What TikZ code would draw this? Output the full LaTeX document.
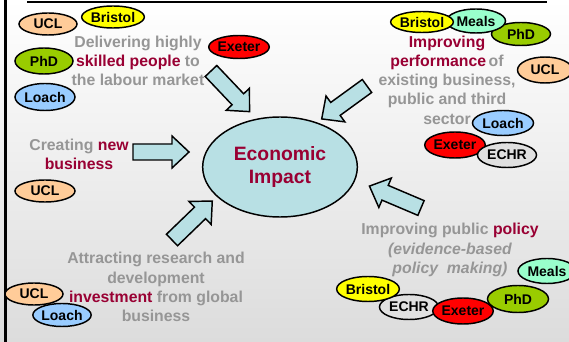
\documentclass[tikz,border=0pt]{standalone}
\usepackage{fontspec}
\setmainfont{Liberation Sans}
\usetikzlibrary{shapes.geometric}
\definecolor{gtext}{RGB}{150,150,150}
\definecolor{rtext}{RGB}{153,0,51}
\definecolor{impfill}{RGB}{184,224,228}
\definecolor{cucl}{RGB}{255,204,153}
\definecolor{cbristol}{RGB}{255,255,0}
\definecolor{cphd}{RGB}{153,204,0}
\definecolor{cloach}{RGB}{153,204,255}
\definecolor{cexeter}{RGB}{255,0,0}
\definecolor{cmeals}{RGB}{153,255,204}
\definecolor{cechr}{RGB}{224,224,224}
\definecolor{bgbot}{RGB}{220,220,220}
\tikzset{
  badge/.style={ellipse, draw=black, line width=1.1pt, inner sep=0pt,
    font=\fontsize{10.5}{12}\selectfont\bfseries, text=black},
  bsz/.style 2 args={minimum width=#1*0.75pt, minimum height=#2*0.75pt},
  blockarr/.style={draw=black, line width=1.1pt, fill=impfill, line join=miter},
  maintext/.style={align=center, text=gtext, inner sep=0pt,
    font=\fontsize{11.85}{14.4}\selectfont\bfseries},
}
\newcommand{\myblockarrow}[3]{%
  \draw[blockarr, shift={(#1,#2)}, rotate=#3]
    (0,-8) -- (39,-8) -- (39,-16) -- (56,0) -- (39,16) -- (39,8) -- (0,8) -- cycle;}
\begin{document}
\begin{tikzpicture}[x=0.75pt,y=-0.75pt]
\useasboundingbox (0,0) rectangle (569,342);
\clip (0,0) rectangle (569,342);
\shade[top color=white, bottom color=bgbot] (0,0) rectangle (569,342);
\draw[line width=2.25pt] (5.5,0) -- (5.5,342);
\draw[line width=1.5pt] (27,2) -- (547,2);

% central ellipse
\node[ellipse, draw=black, line width=1.1pt, fill=impfill, minimum width=116pt,
  minimum height=75pt, inner sep=0pt, align=center, text=rtext,
  font=\fontsize{14.5}{17.3}\selectfont\bfseries] (impact) at (280,167) {Economic\\Impact};

% block arrows
\myblockarrow{211}{71}{-46.5}
\myblockarrow{367}{86}{216}
\myblockarrow{133}{152}{0}
\myblockarrow{172}{240}{44}
\myblockarrow{421}{208}{157}

% texts
\node[maintext] (t1) at (138,61) {Delivering highly\\\textcolor{rtext}{skilled people} to\\the labour market};
\node[maintext] (t2) at (447,80) {\textcolor{rtext}{Improving}\\\textcolor{rtext}{performance}\,of\\existing business,\\public and third\\sector};
\node[maintext] (t3) at (79,154) {Creating \textcolor{rtext}{new}\\\textcolor{rtext}{business}};
\node[maintext] (t4) at (156,287) {Attracting research and\\development\\\textcolor{rtext}{investment} from global\\business};
\node[maintext] (t5) at (450,250) {Improving public \textcolor{rtext}{policy}\\\itshape (evidence-based\\\itshape policy\ \ making)};

% top-left badges
\node[badge, bsz={58}{22}, fill=cucl] (ucl1) at (48,24) {UCL};
\node[badge, bsz={61}{22}, fill=cbristol] (bri1) at (113,17) {Bristol};
\node[badge, bsz={59}{23}, fill=cexeter] (exe1) at (239,47) {Exeter};
\node[badge, bsz={58}{26}, fill=cphd] (phd1) at (44,61) {PhD};
\node[badge, bsz={60}{27}, fill=cloach] (loa1) at (45,97) {Loach};

% top-right badges
\node[badge, bsz={59}{23}, fill=cphd] (phd2) at (521,34) {PhD};
\node[badge, bsz={59}{24}, fill=cmeals] (mea2) at (476,21) {Meals};
\node[badge, bsz={60}{21}, fill=cbristol] (bri2) at (422,22) {Bristol};
\node[badge, bsz={55}{26}, fill=cucl] (ucl2) at (545,70) {UCL};
\node[badge, bsz={61}{25}, fill=cloach] (loa2) at (503,123) {Loach};
\node[badge, bsz={58}{26}, fill=cexeter] (exe2) at (455,145) {Exeter};
\node[badge, bsz={59}{25}, fill=cechr] (ech2) at (507,155) {ECHR};

% middle-left badge
\node[badge, bsz={60}{22}, fill=cucl] (ucl3) at (45,191) {UCL};

% bottom-left badges
\node[badge, bsz={58}{22}, fill=cucl] (ucl4) at (34,294) {UCL};
\node[badge, bsz={58}{23}, fill=cloach] (loa4) at (62,315) {Loach};

% bottom-right badges
\node[badge, bsz={58}{25}, fill=cmeals] (mea5) at (547,271) {Meals};
\node[badge, bsz={59}{25}, fill=cechr] (ech5) at (409,307) {ECHR};
\node[badge, bsz={59}{25}, fill=cbristol] (bri5) at (368,289) {Bristol};
\node[badge, bsz={61}{27}, fill=cphd] (phd5) at (518,299) {PhD};
\node[badge, bsz={58}{26}, fill=cexeter] (exe5) at (463,311) {Exeter};
\end{tikzpicture}
\end{document}
